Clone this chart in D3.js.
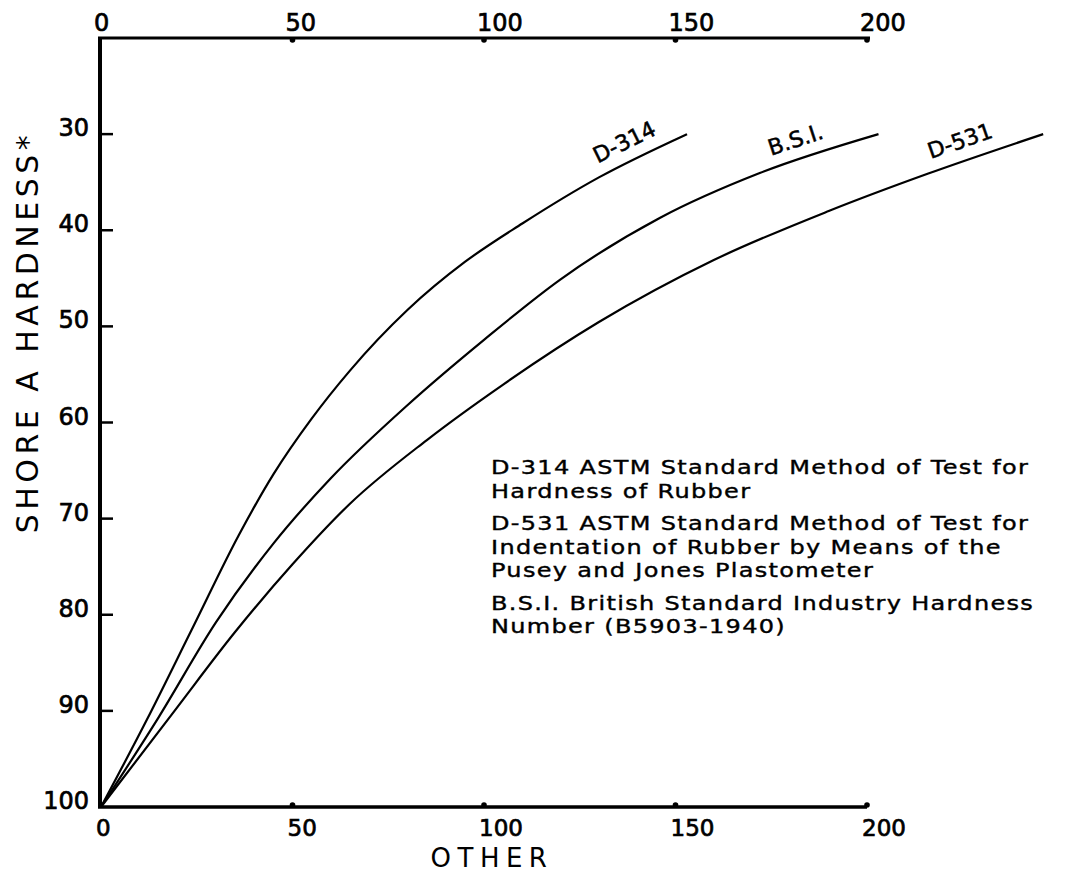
<!DOCTYPE html>
<html>
<head>
<meta charset="utf-8">
<script src="https://cdn.jsdelivr.net/npm/d3@7"></script>
<style>
  body { margin: 0; background: #fff; }
  text { font-family: "DejaVu Sans", sans-serif; fill: #000; }
</style>
</head>
<body>
<div id="chart"></div>
<script>
var svgWidth = 1065;
var svgHeight = 873;

// axis ticks
var xTicks = [0, 50, 100, 150, 200];
var yTicks = [30, 40, 50, 60, 70, 80, 90, 100];

// curves (x = other, y = shore A)
var d314X = [0, 12, 24, 36, 45, 55, 65, 80, 95, 110, 130, 153];
var d314Y = [100, 90.9, 81.3, 71.7, 65.4, 59.6, 54.6, 48.3, 43.3, 39.3, 34.5, 30];

var bsiX = [0, 15, 30, 45, 60, 80, 100, 120, 146, 172, 203];
var bsiY = [100, 90.7, 80.8, 72.6, 65.8, 58.2, 51.4, 45.1, 38.7, 34.05, 30];

var d531X = [0, 19, 35, 50, 65, 85, 105, 130, 160, 190, 216, 246];
var d531Y = [100, 90.1, 81.8, 74.75, 68.45, 61.85, 56.05, 49.55, 43.1, 38.0, 34.1, 30];

var curveNames = ["D-314", "B.S.I.", "D-531"];
var curveLabelAt = [139, 183, 226];

var legendLines = [
    "D-314 ASTM Standard Method of Test for",
    "Hardness of Rubber",
    "D-531 ASTM Standard Method of Test for",
    "Indentation of Rubber by Means of the",
    "Pusey and Jones Plastometer",
    "B.S.I. British Standard Industry Hardness",
    "Number (B5903-1940)"
];
var legendGroupOf = [0, 0, 1, 1, 1, 2, 2];

var xTitle = "OTHER";
var yTitle = "SHORE  A  HARDNESS*";

var svg = d3.select("#chart")
    .append("svg")
    .attr("width", svgWidth)
    .attr("height", svgHeight);

var xScale = d3.scaleLinear().domain([0, 200]).range([101, 867]);
var yScale = d3.scaleLinear().domain([100, 20]).range([807, 38]);

var series = [
    d314X.map((x, i) => [x, d314Y[i]]),
    bsiX.map((x, i) => [x, bsiY[i]]),
    d531X.map((x, i) => [x, d531Y[i]])
];

// frame lines
svg.append("line")
    .attr("x1", xScale(0) - 1).attr("x2", xScale(0) - 1)
    .attr("y1", yScale(20) - 1).attr("y2", yScale(100) + 1)
    .attr("stroke", "#000").attr("stroke-width", 4);
svg.append("line")
    .attr("x1", xScale(0) - 3).attr("x2", xScale(200) + 3)
    .attr("y1", yScale(20)).attr("y2", yScale(20))
    .attr("stroke", "#000").attr("stroke-width", 3);
svg.append("line")
    .attr("x1", xScale(0) - 3).attr("x2", xScale(200))
    .attr("y1", yScale(100)).attr("y2", yScale(100))
    .attr("stroke", "#000").attr("stroke-width", 3.5);

// top axis dots + labels
svg.selectAll(".topdot")
    .data(xTicks.slice(1))
    .enter()
    .append("circle")
    .attr("cx", d => xScale(d))
    .attr("cy", yScale(20) + 2)
    .attr("r", 2.8);
svg.selectAll(".toplab")
    .data(xTicks)
    .enter()
    .append("text")
    .attr("class", "num")
    .attr("x", d => xScale(d) - 7)
    .attr("y", 31)
    .attr("font-size", 24)
    .text(d => d);

// bottom axis dots + labels
svg.selectAll(".botdot")
    .data(xTicks.slice(1))
    .enter()
    .append("circle")
    .attr("cx", d => xScale(d))
    .attr("cy", yScale(100) - 2)
    .attr("r", 2.8);
svg.selectAll(".botlab")
    .data(xTicks)
    .enter()
    .append("text")
    .attr("class", "num")
    .attr("x", d => xScale(d) - 5)
    .attr("y", 835.5)
    .attr("font-size", 23)
    .text(d => d);

// left ticks + labels
svg.selectAll(".ytick")
    .data(yTicks.slice(0, -1))
    .enter()
    .append("line")
    .attr("x1", xScale(0)).attr("x2", xScale(0) + 12)
    .attr("y1", d => yScale(d)).attr("y2", d => yScale(d))
    .attr("stroke", "#000").attr("stroke-width", 2.5);
svg.selectAll(".ylab")
    .data(yTicks)
    .enter()
    .append("text")
    .attr("class", "num")
    .attr("x", 89)
    .attr("y", d => yScale(d) + 2)
    .attr("text-anchor", "end")
    .attr("font-size", 24)
    .text(d => d);

svg.selectAll(".num")
    .attr("stroke", "#000")
    .attr("stroke-width", 0.7);

// curves
var line = d3.line()
    .x(d => xScale(d[0]))
    .y(d => yScale(d[1]))
    .curve(d3.curveMonotoneX);

svg.selectAll(".curve")
    .data(series)
    .enter()
    .append("path")
    .attr("d", line)
    .attr("fill", "none")
    .attr("stroke", "#000")
    .attr("stroke-width", 2.2);

// curve labels, placed above the curve at its local slope
curveNames.forEach(function(name, i) {
    var pts = series[i];
    var xv = curveLabelAt[i];
    var k = d3.bisector(d => d[0]).left(pts, xv);
    var p0 = pts[k - 1], p1 = pts[k];
    var t = (xv - p0[0]) / (p1[0] - p0[0]);
    var yv = p0[1] + t * (p1[1] - p0[1]);
    var ang = Math.atan2(yScale(p1[1]) - yScale(p0[1]), xScale(p1[0]) - xScale(p0[0])) * 180 / Math.PI;
    svg.append("text")
        .attr("transform", `translate(${xScale(xv)}, ${yScale(yv)}) rotate(${ang}) translate(0, -13)`)
        .attr("text-anchor", "middle")
        .attr("font-size", 22)
        .attr("stroke", "#000")
        .attr("stroke-width", 0.5)
        .text(name);
});

// legend block, lettering stretched a little to match the wide drafting font
var legend = svg.append("g")
    .attr("transform", "translate(491, 0) scale(1.2, 1)");

legend.selectAll("text")
    .data(legendLines)
    .enter()
    .append("text")
    .attr("x", 0)
    .attr("y", (d, i) => 474.5 + i * 23.5 + legendGroupOf[i] * 9)
    .attr("font-size", 20)
    .attr("letter-spacing", 1.1)
    .attr("stroke", "#000")
    .attr("stroke-width", 0.4)
    .text(d => d);

// axis titles
svg.append("text")
    .attr("x", 492)
    .attr("y", 866.5)
    .attr("text-anchor", "middle")
    .attr("font-size", 26)
    .attr("letter-spacing", 6.5)
    .text(xTitle);

svg.append("text")
    .attr("transform", "translate(38, 332) rotate(-90)")
    .attr("text-anchor", "middle")
    .attr("font-size", 30)
    .attr("letter-spacing", 4.5)
    .text(yTitle);
</script>
</body>
</html>
